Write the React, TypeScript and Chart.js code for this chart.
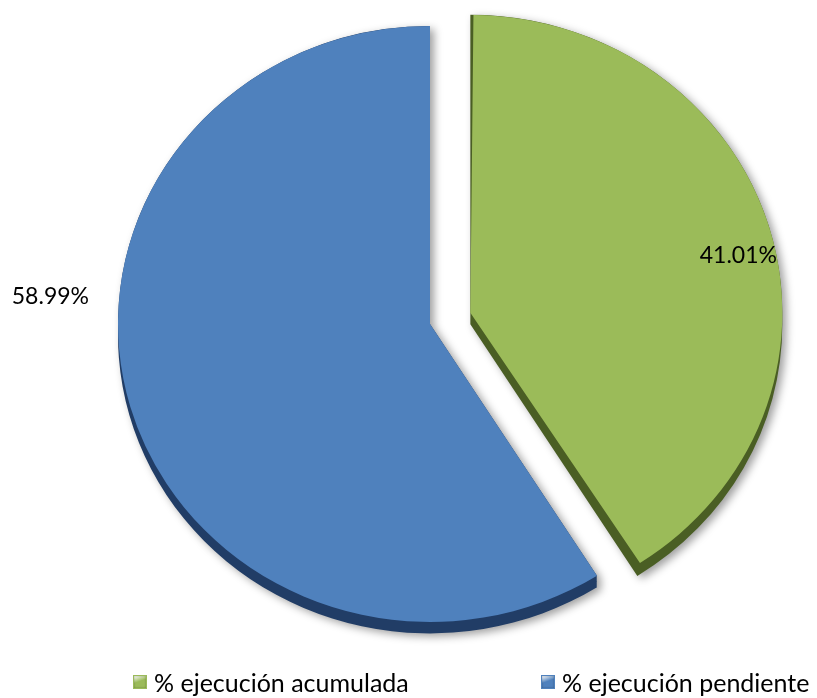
import React, { useEffect, useRef } from "react";
import { Chart, registerables } from "chart.js";

Chart.register(...registerables);

// ---- data ----
const categories = ["% ejecución acumulada", "% ejecución pendiente"];
const values = [41.01, 58.99];
const valueLabels = ["41.01%", "58.99%"];
const topColors = ["#9BBB59", "#4F81BD"];
const sideColors = ["#4A5E24", "#213D66"];
const explode = [168, 0];

// ---- style constants ----
const SCALE_Y = 0.955;
const DEPTH = 12;
const FONT = "Lato, 'Open Sans', sans-serif";

function arcGeom(arc: any) {
  const off = (arc.options.offset || 0) / 4;
  const half = (arc.startAngle + arc.endAngle) / 2;
  const circ = arc.endAngle - arc.startAngle;
  const fix = 1 - Math.sin(Math.min(Math.PI, circ));
  return {
    x: arc.x + Math.cos(half) * off,
    y: arc.y + Math.sin(half) * off,
    r: arc.outerRadius + off * fix,
    half,
  };
}

const pie3d = {
  id: "pie3d",
  afterDatasetsUpdate(chart: any) {
    const meta = chart.getDatasetMeta(0);
    meta.data.forEach((arc: any) => {
      const off = (arc.options.offset || 0) / 4;
      const circ = arc.endAngle - arc.startAngle;
      const fix = 1 - Math.sin(Math.min(Math.PI, circ));
      arc.outerRadius = arc.outerRadius - off * fix;
    });
  },
  beforeDatasetsDraw(chart: any) {
    const ctx = chart.ctx;
    const meta = chart.getDatasetMeta(0);
    const first = meta.data[0];
    const cx = first.x;
    const cy = first.y;
    ctx.save();
    ctx.translate(cx, cy);
    ctx.scale(1, SCALE_Y);
    ctx.translate(-cx, -cy);
    const depth = DEPTH / SCALE_Y;
    meta.data.forEach((arc: any, i: number) => {
      const g = arcGeom(arc);
      ctx.save();
      ctx.shadowColor = "rgba(0,0,0,0.38)";
      ctx.shadowBlur = 9;
      ctx.shadowOffsetX = 4;
      ctx.shadowOffsetY = 3;
      ctx.beginPath();
      for (let d = 0; d <= depth; d += 1) {
        ctx.moveTo(g.x, g.y + d);
        ctx.arc(g.x, g.y + d, g.r, arc.startAngle, arc.endAngle);
        ctx.closePath();
      }
      ctx.fillStyle = sideColors[i];
      ctx.fill();
      ctx.restore();
    });
  },
  afterDatasetsDraw(chart: any) {
    const ctx = chart.ctx;
    ctx.restore();
    const meta = chart.getDatasetMeta(0);
    const cy = meta.data[0].y;
    ctx.save();
    ctx.font = `23px ${FONT}`;
    ctx.fillStyle = "#000000";
    ctx.textBaseline = "middle";
    meta.data.forEach((arc: any, i: number) => {
      const g = arcGeom(arc);
      const sy = cy + (g.y - cy) * SCALE_Y;
      if (i === 0) {
        // inside end
        const ex = g.x + Math.cos(g.half) * g.r;
        const ey = sy + Math.sin(g.half) * g.r * SCALE_Y;
        ctx.textAlign = "right";
        ctx.fillText(valueLabels[i], ex + 7, ey + 26);
      } else {
        // outside, left of pie
        ctx.textAlign = "right";
        ctx.fillText(valueLabels[i], g.x - g.r - 29, sy - 27);
      }
    });
    ctx.restore();
  },
};

function LegendItem({ color, text, left }: { color: string; text: string; left: number }) {
  return (
    <div
      style={{
        position: "absolute",
        left,
        top: 667,
        height: 30,
        display: "flex",
        alignItems: "center",
        font: `25px ${FONT}`,
        color: "#000",
        whiteSpace: "nowrap",
      }}
    >
      <span
        style={{
          display: "inline-block",
          width: 12,
          height: 12,
          marginRight: 7,
          border: `1px solid ${color}`,
          background: `linear-gradient(160deg, #ffffff55 0%, ${color} 45%, ${color} 100%)`,
          boxShadow: "inset 0 0 2px rgba(0,0,0,0.35)",
        }}
      />
      <span>{text}</span>
    </div>
  );
}

export default function App() {
  const ref = useRef<HTMLCanvasElement>(null);
  useEffect(() => {
    if (!ref.current) return;
    const chart = new Chart(ref.current, {
      type: "pie",
      data: {
        labels: categories,
        datasets: [
          {
            data: values,
            backgroundColor: topColors,
            borderWidth: 0,
            offset: explode,
            radius: 312,
            clip: false,
          } as any,
        ],
      },
      options: {
        responsive: false,
        animation: false,
        events: [],
        devicePixelRatio: 1,
        layout: { padding: { left: 43, right: 0, top: 0, bottom: 50 } },
        plugins: {
          legend: { display: false },
          tooltip: { enabled: false },
        },
      },
      plugins: [pie3d as any],
    });
    return () => chart.destroy();
  }, []);

  return (
    <div style={{ position: "absolute", left: 0, top: 0, width: 817, height: 698, background: "#fff", overflow: "hidden" }}>
      <canvas ref={ref} width={817} height={698} style={{ position: "absolute", left: 0, top: 0 }} />
      <LegendItem color={topColors[0]} text={categories[0]} left={133} />
      <LegendItem color={topColors[1]} text={categories[1]} left={541} />
    </div>
  );
}
